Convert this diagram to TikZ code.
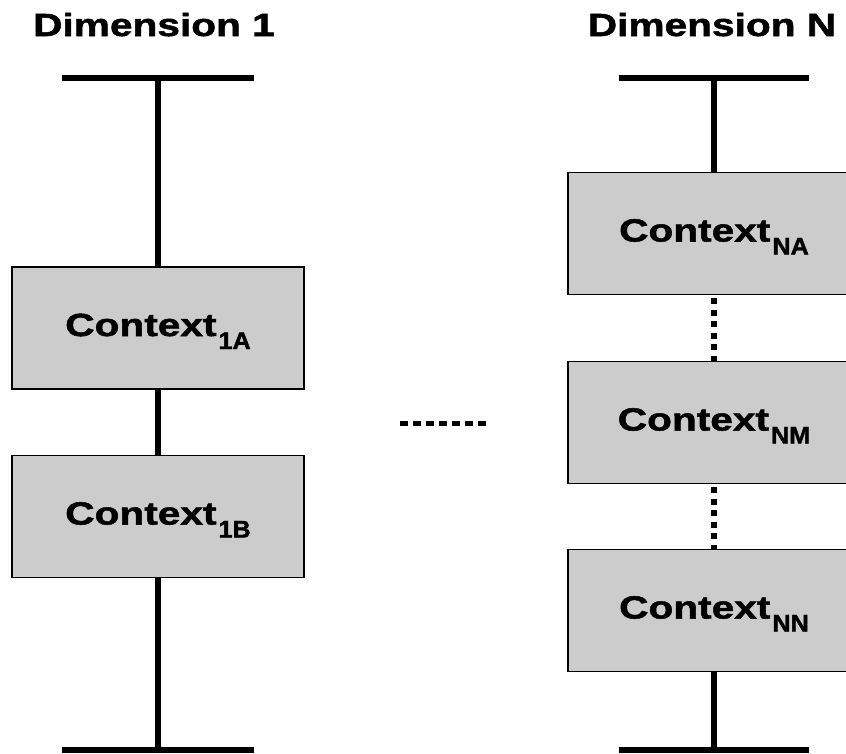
\documentclass[tikz,border=0pt]{standalone}
\usepackage{fontspec}
\setmainfont{Liberation Sans}
\newfontfamily\heavyfont[FakeStretch=1.27, FakeBold=1.6]{Liberation Sans Bold}
\newfontfamily\subfont[FakeStretch=1.05, FakeBold=1.6]{Liberation Sans Bold}
\newcommand{\ctxsub}[1]{\hspace{2pt}\raisebox{-13pt}{\subfont\fontsize{24}{24}\selectfont #1}}
\begin{document}
\begin{tikzpicture}[x=1pt,y=-1pt,
  every node/.style={font=\heavyfont\fontsize{32}{38}\selectfont, inner sep=0pt},
  titletext/.style={anchor=base},
  ctxbox/.style={draw=black, line width=1.2pt, fill=black!20, minimum width=292pt, minimum height=122pt, text height=29pt, text depth=13pt},
  thick line/.style={line width=5.5pt},
  dotline/.style={line width=6pt, dash pattern=on 6pt off 5.5pt, dash phase=-3pt},
  hdots/.style={line width=5pt, dash pattern=on 7.5pt off 5.5pt}]
\useasboundingbox (0,0) rectangle (846,753);
\clip (0,0) rectangle (846,753);
% titles
\node[titletext] (d1) at (154,36) {Dimension 1};
\node[titletext] (dn) at (712,36) {Dimension N};
% left column
\coordinate (l1) at (62,78); \coordinate (r1) at (254,78); \coordinate (t1) at (158,78);
\coordinate (l2) at (62,750); \coordinate (r2) at (254,750); \coordinate (b1) at (158,750);
\node[ctxbox] (c1a) at (158,328) {Context\ctxsub{1A}};
\node[ctxbox] (c1b) at (158,516.5) {Context\ctxsub{1B}};
\draw[thick line] (l1) -- (r1);
\draw[thick line] (t1) -- (c1a.north);
\draw[thick line] (c1a.south) -- (c1b.north);
\draw[thick line] (c1b.south) -- (b1);
\draw[thick line] (l2) -- (r2);
% right column
\coordinate (l3) at (619,78); \coordinate (r3) at (809,78); \coordinate (t2) at (714,78);
\coordinate (l4) at (619,750); \coordinate (r4) at (809,750); \coordinate (b2) at (714,750);
\node[ctxbox] (cna) at (714,233.5) {Context\ctxsub{NA}};
\node[ctxbox] (cnm) at (714,422.5) {Context\ctxsub{NM}};
\node[ctxbox] (cnn) at (714,610.5) {Context\ctxsub{NN}};
\draw[thick line] (l3) -- (r3);
\draw[thick line] (t2) -- (cna.north);
\draw[dotline] (cna.south) -- (cnm.north);
\draw[dotline] (cnm.south) -- (cnn.north);
\draw[thick line] (cnn.south) -- (b2);
\draw[thick line] (l4) -- (r4);
% middle dots
\coordinate (h1) at (400,423); \coordinate (h2) at (490,423);
\draw[hdots] (h1) -- (h2);
\end{tikzpicture}
\end{document}
